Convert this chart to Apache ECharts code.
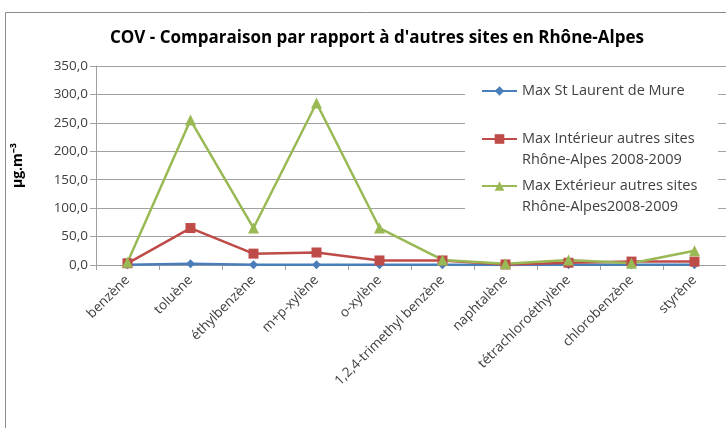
<!DOCTYPE html>
<html><head><meta charset="utf-8">
<script src="https://cdn.jsdelivr.net/npm/echarts@6/dist/echarts.min.js"></script>
<style>html,body{margin:0;padding:0;background:#fff}#c{width:726px;height:428px}</style>
</head><body><div id="c"></div>
<script>
const categories = ['benzène','toluène','éthylbenzène','m+p-xylène','o-xylène','1,2,4-trimethyl benzène','naphtalène','tétrachloroéthylène','chlorobenzène','styrène'];
const seriesNames = ['Max St Laurent de Mure','Max Intérieur autres sites\nRhône-Alpes 2008-2009','Max Extérieur autres sites\nRhône-Alpes2008-2009'];
const stLaurent = [0.5, 2, 0.5, 0.5, 0.3, 0.3, 0.2, 0.3, 0.3, 0.3];
const interieur = [3, 65, 20, 22, 8, 8, 1, 4, 6, 6];
const exterieur = [5, 255, 65, 285, 65, 9, 2, 9, 3, 25];
const yTicks = [0, 50, 100, 150, 200, 250, 300, 350];

const FONT = 'Open Sans';
const GRID = '#a0a0a0';
const chart = echarts.init(document.getElementById('c'), null, {renderer:'canvas'});
const mk = (name, data, color, symbol, size) => ({
  name, type:'line', data, symbol, symbolSize:size, showSymbol:true,
  lineStyle:{color, width:2.5}, itemStyle:{color, borderWidth:0}, z: 3
});
const mkLegend = (name, top, multi) => ({
  orient:'vertical', left:481, top, itemGap:0, itemWidth:35, itemHeight:12, padding:0,
  data:[name], selectedMode:false,
  formatter: multi ? (n => ' \n' + n) : (n => n),
  textStyle:{fontFamily:FONT, fontSize:14.5, color:'#404040', lineHeight:21}
});
chart.setOption({
  animation:false,
  backgroundColor:'#fff',
  graphic:[
    {type:'rect', shape:{x:5.5,y:12.5,width:760,height:460}, style:{fill:'none', stroke:'#8c8c8c', lineWidth:1}, z:-10},
    {type:'rect', shape:{x:465,y:70,width:253,height:156}, style:{fill:'#fff'}, z:3}
  ],
  title:{text:'COV - Comparaison par rapport à d\'autres sites en Rhône-Alpes', left:372, textAlign:'center', top:25,
    textStyle:{fontFamily:FONT, fontSize:17, fontWeight:'bold', color:'#000'}},
  legend:[
    mkLegend(seriesNames[0], 80.5, false),
    mkLegend(seriesNames[1], 107.5, true),
    mkLegend(seriesNames[2], 154.5, true)
  ],
  grid:{left:96, top:66, width:633, height:199},
  xAxis:{type:'category', data:categories, boundaryGap:true,
    axisLine:{lineStyle:{color:GRID}}, axisTick:{show:true, alignWithLabel:false, length:5, lineStyle:{color:GRID}},
    axisLabel:{rotate:45, interval:0, margin:13, fontFamily:FONT, fontSize:13.5, color:'#404040'}},
  yAxis:{type:'value', min:0, max:350, interval:50,
    name:'µg.m⁻³', nameLocation:'middle', nameRotate:90, nameGap:71,
    nameTextStyle:{fontFamily:FONT, fontSize:14, fontWeight:'bold', color:'#000'},
    axisLine:{show:true, lineStyle:{color:GRID}}, axisTick:{show:true, inside:false, length:6, lineStyle:{color:GRID}},
    splitLine:{lineStyle:{color:GRID}},
    axisLabel:{margin:8, fontFamily:FONT, fontSize:13.5, color:'#404040', formatter:v=>v.toFixed(1).replace('.',',')}},
  series:[
    mk(seriesNames[0], stLaurent, '#4a7ebb', 'diamond', 9),
    mk(seriesNames[1], interieur, '#be4b48', 'rect', 10),
    mk(seriesNames[2], exterieur, '#98b954', 'triangle', 11)
  ]
});
</script></body></html>
